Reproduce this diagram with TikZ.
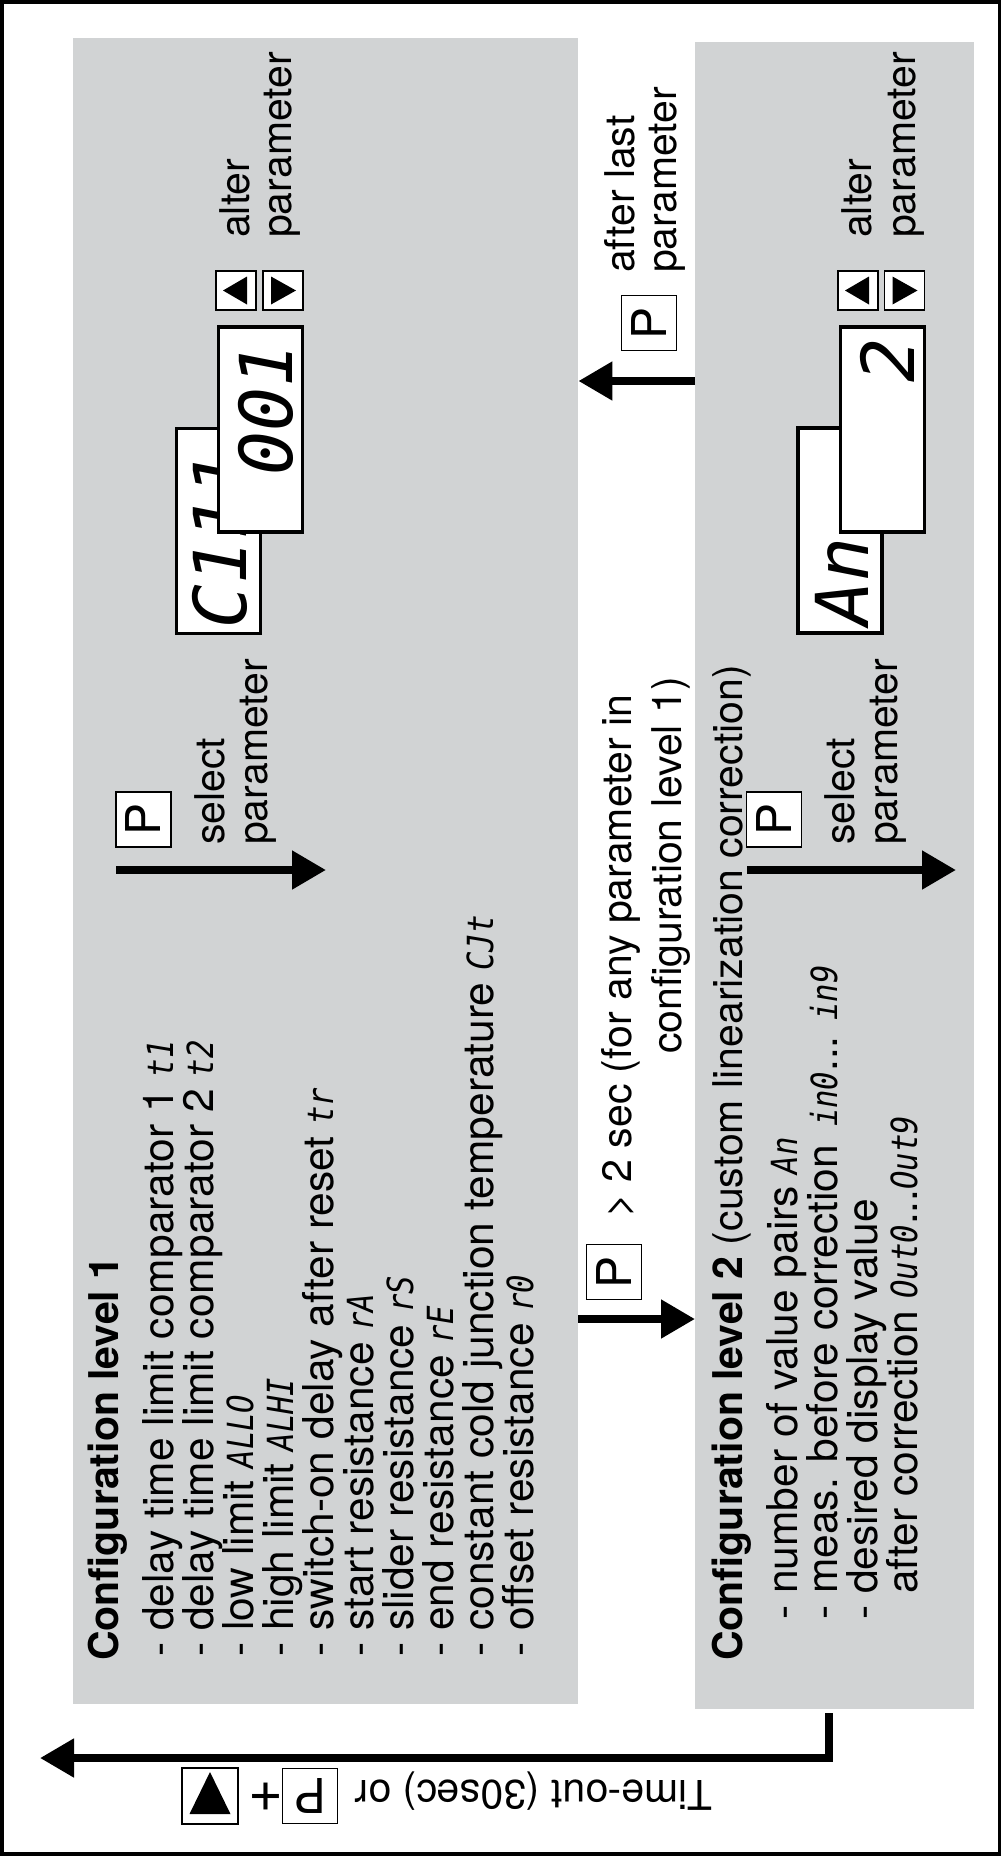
\documentclass[tikz,border=0pt]{standalone}
\usepackage{fontspec}
\setmainfont{TeX Gyre Heros}
\newfontfamily\segfont{DejaVu Sans Mono}
\newfontfamily\segsmallfont[FakeStretch=0.85]{DejaVu Sans Mono}
\usetikzlibrary{arrows.meta}
\definecolor{panel}{RGB}{209,211,212}
\newcommand{\seg}[1]{{\segsmallfont\itshape\fontsize{36}{36}\selectfont #1}}
\newcommand{\segbig}{\segfont\itshape\fontsize{73}{73}\selectfont}
\tikzset{
  txt/.style={inner sep=0pt, anchor=base west, rotate=90, font=\fontsize{41}{41}\selectfont},
  item/.style={txt, font=\fontsize{42.5}{42.5}\selectfont},
  txtflip/.style={inner sep=0pt, anchor=base west, rotate=180, font=\fontsize{41}{41}\selectfont},
  panelbox/.style={fill=panel, draw=none, inner sep=0pt, anchor=north west},
  pkey/.style={draw, line width=1.4pt, fill=white, minimum width=55pt, minimum height=55pt, inner sep=0pt, font=\fontsize{48}{48}\selectfont},
  akey/.style={draw, line width=1.4pt, fill=white, minimum width=40pt, minimum height=39pt, inner sep=0pt},
  lcd/.style={draw, line width=3.3pt, fill=white, minimum width=84pt, minimum height=205pt, inner sep=0pt},
  bigarrow/.style={line width=8pt, -{Triangle[length=34pt,width=37pt]}},
}
\begin{document}
\begin{tikzpicture}[x=1pt,y=-1pt]
\useasboundingbox (0,0) rectangle (1003,1856);
\draw[line width=3.5pt] (2,2) rectangle (999.5,1854);
% panels
\node[panelbox, minimum width=505pt, minimum height=1666pt] (box1) at (73,38) {};
\node[panelbox, minimum width=279pt, minimum height=1667pt] (box2) at (695,42) {};
% level 1 list
\node[txt] (h1) at (118,1661) {\bfseries Configuration level 1};
\node[item] (i1) at (173,1657) {- delay time limit comparator 1 \seg{t1}};
\node[item] (i2) at (213,1657) {- delay time limit comparator 2 \seg{t2}};
\node[item] (i3) at (253,1657) {- low limit \seg{ALLO}};
\node[item] (i4) at (293,1657) {- high limit \seg{ALHI}};
\node[item] (i5) at (333,1657) {- switch-on delay after reset \seg{tr}};
\node[item] (i6) at (373,1657) {- start resistance \seg{rA}};
\node[item] (i7) at (413,1657) {- slider resistance \seg{rS}};
\node[item] (i8) at (453,1657) {- end resistance \seg{rE}};
\node[item] (i9) at (493,1657) {- constant cold junction temperature \seg{CJt}};
\node[item] (i10) at (533,1657) {- offset resistance \seg{r0}};
% level 2 list
\node[txt] (h2) at (742,1661) {\textbf{Configuration level 2} (custom linearization correction)};
\node[item] (j1) at (797,1620) {- number of value pairs \seg{An}};
\node[item] (j2) at (837,1620) {- meas. before correction\ \hspace{6pt}\seg{in0}... \seg{in9}};
\node[item] (j3) at (877,1620) {- desired display value};
\node[item] (j4) at (917,1620) {\phantom{-}\ after correction \seg{Out0}...\seg{Out9}};
% select parameter
\node[pkey, rotate=90] (pk1) at (143.5,819.5) {P};
\node[txt] (sel1) at (224,845) {select};
\node[txt] (par1) at (267,845) {parameter};
\coordinate (s1a) at (116,870);
\coordinate (s1b) at (326,870);
\draw[bigarrow] (s1a) -- (s1b);
\node[pkey, rotate=90] (pk2) at (774,819.5) {P};
\node[txt] (sel2) at (854,845) {select};
\node[txt] (par2) at (897,845) {parameter};
\coordinate (s2a) at (747,870);
\coordinate (s2b) at (956,870);
\draw[bigarrow] (s2a) -- (s2b);
% displays level 1
\node[lcd] (d1b) at (218.5,531) {};
\node[txt, font=\segbig] (d1bt) at (246,629) {C111};
\node[lcd] (d1f) at (260.5,429.5) {};
\node[txt, font=\segbig] (d1ft) at (292,476) {001};
% displays level 2
\node[lcd] (d2b) at (840,530.5) {};
\node[txt, font=\segbig] (d2bt) at (868,626) {An};
\node[lcd] (d2f) at (882.5,429.5) {};
\node[txt, font=\segbig] (d2ft) at (914,383) {2};
% alter keys
\node[akey] (up1) at (236,290.5) {};
\node[akey] (dn1) at (283,290.5) {};
\node[akey] (up2) at (858,290.5) {};
\node[akey] (dn2) at (904.5,290.5) {};
\fill[shift={(up1.center)}] (-13,0) -- (11,-14) -- (11,14) -- cycle;
\fill[shift={(dn1.center)}] (13,0) -- (-12,-14) -- (-12,14) -- cycle;
\fill[shift={(up2.center)}] (-13,0) -- (11,-14) -- (11,14) -- cycle;
\fill[shift={(dn2.center)}] (13,0) -- (-12,-14) -- (-12,14) -- cycle;
\node[txt] (alt1) at (249,238) {alter};
\node[txt] (apar1) at (291,238) {parameter};
\node[txt] (alt2) at (871,238) {alter};
\node[txt] (apar2) at (915,238) {parameter};
% after last parameter
\coordinate (a3) at (0,381);
\draw[bigarrow] (box2.west |- a3) -- (box1.east |- a3);
\node[pkey, rotate=90] (pk3) at (649,323) {P};
\node[txt] (al1) at (634,273) {after last};
\node[txt] (al2) at (676,273) {parameter};
% > 2 sec
\coordinate (a4) at (0,1319);
\draw[bigarrow] (box1.east |- a4) -- (box2.west |- a4);
\node[pkey, rotate=90] (pk4) at (614,1272) {P};
\node[txt] (g1) at (631,1218) {> 2 sec (for any parameter in};
\node[txt] (g2) at (681,1054) {configuration level 1)};
% time-out
\coordinate (tc) at (829,1758);
\coordinate (te) at (40,1758);
\draw[bigarrow, shorten <=4pt] (box2.south -| tc) -- (tc) -- (te);
\node[txtflip] (to) at (713,1780) {Time-out (30sec) or};
\node[pkey, rotate=180] (pk5) at (310,1796) {P};
\node[txtflip, anchor=center, font=\fontsize{60}{60}\selectfont] (plus) at (266,1796) {+};
\node[akey, minimum width=56pt, minimum height=56pt] (tk) at (210,1796) {};
\fill[shift={(tk.center)}] (0,-24) -- (-20.5,18) -- (20.5,18) -- cycle;
\end{tikzpicture}
\end{document}
